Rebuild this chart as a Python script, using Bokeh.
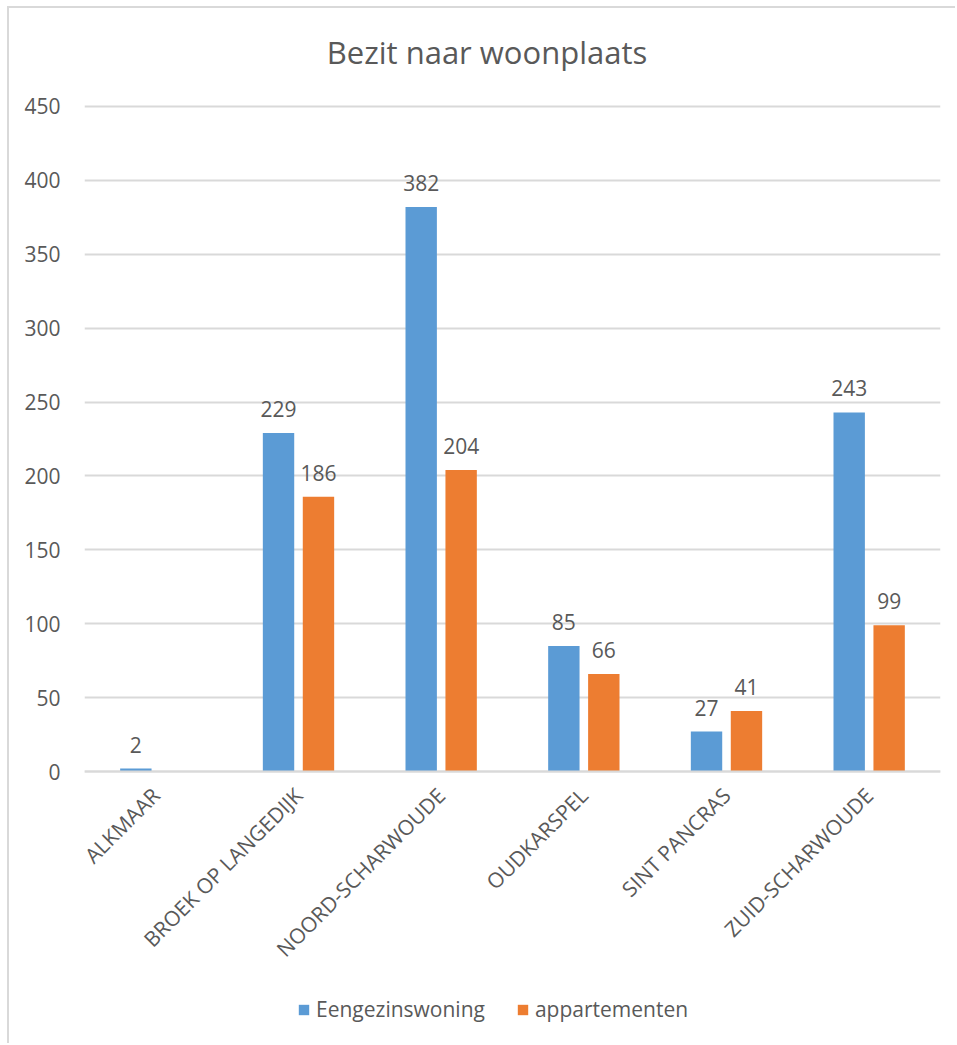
import math
from bokeh.plotting import figure
from bokeh.models import (ColumnDataSource, FactorRange, Range1d, LabelSet, Label,
                          Legend, LegendItem, FixedTicker, CategoricalAxis)
from bokeh.core.properties import value
from bokeh.transform import dodge
from bokeh.embed import file_html
from bokeh.resources import INLINE

# ---- data ----
title_text = "Bezit naar woonplaats"
categories = ["ALKMAAR", "BROEK OP LANGEDIJK", "NOORD-SCHARWOUDE",
              "OUDKARSPEL", "SINT PANCRAS", "ZUID-SCHARWOUDE"]
eengezinswoning = [2, 229, 382, 85, 27, 243]
appartementen = [None, 186, 204, 66, 41, 99]
series_names = ["Eengezinswoning", "appartementen"]
y_ticks = [0, 50, 100, 150, 200, 250, 300, 350, 400, 450]

BLUE = "#5B9BD5"
ORANGE = "#ED7D31"
TXT = "#595959"
GRID = "#D9D9D9"
FONT = "Open Sans"

def clean(v):
    return float("nan") if v is None else v

src = ColumnDataSource(dict(
    cat=categories,
    blue=[clean(v) for v in eengezinswoning],
    orange=[clean(v) for v in appartementen],
))

blue_lbl = ColumnDataSource(dict(
    cat=[c for c, v in zip(categories, eengezinswoning) if v is not None],
    val=[v for v in eengezinswoning if v is not None],
    txt=[str(v) for v in eengezinswoning if v is not None],
))
orange_lbl = ColumnDataSource(dict(
    cat=[c for c, v in zip(categories, appartementen) if v is not None],
    val=[v for v in appartementen if v is not None],
    txt=[str(v) for v in appartementen if v is not None],
))

# the frame spans the full canvas height; extra room above 450 for the title
# and below 0 for the rotated labels and the legend
Y_TOP = 516.3
Y_BOTTOM = -185.4

p = figure(width=948, height=1037, output_backend="svg", toolbar_location=None,
           x_range=FactorRange(*categories, range_padding=0),
           y_range=Range1d(Y_BOTTOM, Y_TOP),
           x_axis_location=None,
           min_border_left=75, min_border_right=17,
           min_border_top=0, min_border_bottom=0)
p.styles = {"margin-left": "7px", "margin-top": "6px",
            "border-left": "2px solid #D9D9D9", "border-top": "2px solid #D9D9D9"}
p.outline_line_color = None
p.background_fill_color = "white"
p.border_fill_color = "white"

p.add_layout(Label(x=402.5, y=487, x_units="screen", y_units="data",
                   text=title_text, text_align="center", text_baseline="alphabetic",
                   text_font=FONT, text_font_size="31px", text_color=TXT))

r_blue = p.vbar(x=dodge("cat", -0.14, range=p.x_range), top="blue", bottom=0,
                width=0.22, source=src, fill_color=BLUE, line_color=None)
r_orange = p.vbar(x=dodge("cat", 0.14, range=p.x_range), top="orange", bottom=0,
                  width=0.22, source=src, fill_color=ORANGE, line_color=None)

for s, off in ((blue_lbl, -0.14), (orange_lbl, 0.14)):
    ls = LabelSet(x=dodge("cat", off, range=p.x_range), y="val", text="txt",
                  source=s, text_align="center", text_baseline="bottom",
                  y_offset=16, text_font=value(FONT), text_font_size=value("21px"),
                  text_color=value(TXT))
    p.add_layout(ls)

# y axis
p.yaxis.ticker = FixedTicker(ticks=y_ticks)
p.yaxis.axis_line_color = None
p.yaxis.major_tick_line_color = None
p.yaxis.minor_tick_line_color = None
p.yaxis.major_label_standoff = 18
p.yaxis.major_label_text_font = FONT
p.yaxis.major_label_text_font_size = "21px"
p.yaxis.major_label_text_color = TXT

# x axis placed at y = 0 inside the frame
xaxis = CategoricalAxis(fixed_location=0,
                        axis_line_color=GRID, axis_line_width=2,
                        major_tick_line_color=None, minor_tick_line_color=None,
                        major_label_orientation=math.pi / 4,
                        major_label_standoff=14,
                        major_label_text_font=FONT,
                        major_label_text_font_size="21px",
                        major_label_text_color=TXT)
p.add_layout(xaxis, "below")

p.xgrid.grid_line_color = None
p.ygrid.grid_line_color = GRID
p.ygrid.grid_line_width = 2

legend = Legend(items=[LegendItem(label=series_names[0], renderers=[r_blue]),
                       LegendItem(label=series_names[1], renderers=[r_orange])],
                orientation="horizontal", location=(213, 22),
                glyph_width=13, glyph_height=13, label_standoff=6, spacing=31,
                padding=0, margin=0, border_line_color=None,
                background_fill_alpha=0,
                label_text_font=FONT, label_text_font_size="21px",
                label_text_color=TXT)
p.add_layout(legend, "center")

open("out.html", "w").write(file_html(p, INLINE))
